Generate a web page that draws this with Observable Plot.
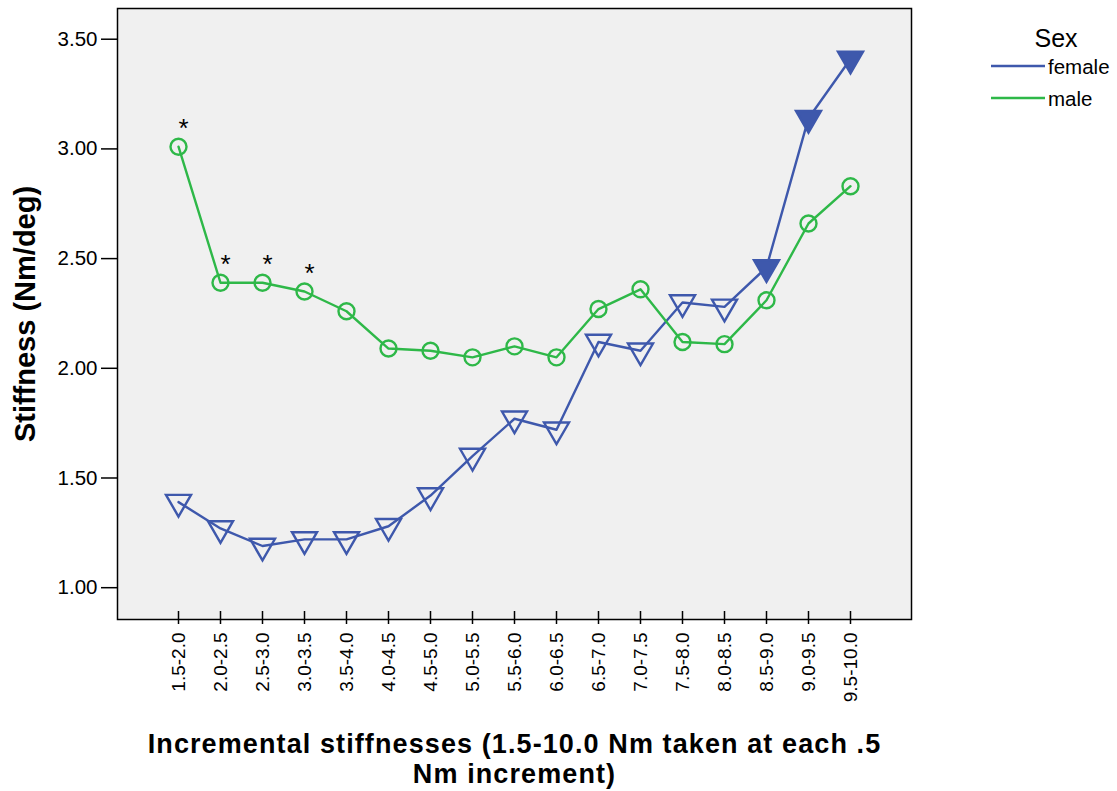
<!DOCTYPE html>
<html><head><meta charset="utf-8">
<script src="https://cdn.jsdelivr.net/npm/d3@7"></script>
<script src="https://cdn.jsdelivr.net/npm/@observablehq/plot@0.6"></script>
<style>
body{margin:0;background:#fff;font-family:"Liberation Sans",Arial,sans-serif;}
#wrap{position:relative;width:1117px;height:791px;}
#legend{position:absolute;left:985px;top:20px;}
</style></head><body>
<div id="wrap"><div id="chart"></div><div id="legend"></div></div>
<script>
const categories = ["1.5-2.0","2.0-2.5","2.5-3.0","3.0-3.5","3.5-4.0","4.0-4.5","4.5-5.0","5.0-5.5","5.5-6.0","6.0-6.5","6.5-7.0","7.0-7.5","7.5-8.0","8.0-8.5","8.5-9.0","9.0-9.5","9.5-10.0"];
const female = [1.39,1.27,1.19,1.22,1.22,1.28,1.42,1.60,1.77,1.72,2.12,2.08,2.30,2.28,2.46,3.14,3.41];
const femaleSolid = [false,false,false,false,false,false,false,false,false,false,false,false,false,false,true,true,true];
const male = [3.01,2.39,2.39,2.35,2.26,2.09,2.08,2.05,2.10,2.05,2.27,2.36,2.12,2.11,2.31,2.66,2.83];
const starred = ["1.5-2.0","2.0-2.5","2.5-3.0","3.0-3.5"];
const yTicks = [1.0,1.5,2.0,2.5,3.0,3.5];
const seriesNames = ["female","male"];
const seriesColors = ["#3e58ac","#2eb848"];
const yTitle = "Stiffness (Nm/deg)";
const xTitle = "Incremental stiffnesses (1.5-10.0 Nm taken at each .5\nNm increment)";
const legendTitle = "Sex";

const fem = categories.map((c,i)=>({cat:c, v:female[i], solid:femaleSolid[i]}));
const mal = categories.map((c,i)=>({cat:c, v:male[i]}));
const stars = mal.filter(d=>starred.includes(d.cat));

const chart = Plot.plot({
  width:1117, height:791,
  marginLeft:117, marginRight:206, marginTop:8, marginBottom:172,
  style:{fontFamily:"Liberation Sans, Arial, sans-serif", fontSize:"19px", background:"white", overflow:"visible", color:"black"},
  x:{type:"point", domain:categories, padding:1.44, label:null},
  y:{domain:[0.855,3.64], label:null},
  marks:[
    Plot.frame({fill:"#f0f0f0"}),
    Plot.axisY({ticks:yTicks, tickFormat:".2f", tickSize:16, tickPadding:4, stroke:"black", strokeWidth:1.5, strokeOpacity:1, fill:"black", label:null, fontSize:20.5}),
    Plot.axisX({tickSize:13, dy:-8, tickFormat:()=>"", stroke:"black", strokeWidth:1.5, strokeOpacity:1, label:null}),
    Plot.axisX({tickSize:0, tickRotate:-90, tickPadding:13, textAnchor:"end", fill:"black", label:null, fontSize:19}),
    Plot.line(fem, {x:"cat", y:"v", stroke:seriesColors[0], strokeWidth:2.4}),
    Plot.dot(fem, {x:"cat", y:"v", symbol:"triangle", rotate:180, r:9.3, stroke:seriesColors[0], strokeWidth:2.4, fill:d=>d.solid?seriesColors[0]:"none"}),
    Plot.line(mal, {x:"cat", y:"v", stroke:seriesColors[1], strokeWidth:2.4}),
    Plot.dot(mal, {x:"cat", y:"v", r:8, stroke:seriesColors[1], strokeWidth:2.4, fill:"none"}),
    Plot.text(stars, {x:"cat", y:"v", text:()=>"*", dx:5, dy:-18, fontSize:26, fill:"black"}),
    Plot.frame({stroke:"black", strokeWidth:1.5}),
    Plot.text([yTitle], {frameAnchor:"left", textAnchor:"middle", rotate:-90, dx:-92, fontSize:29, fontWeight:"bold", fill:"black"}),
    Plot.text([xTitle], {frameAnchor:"bottom", textAnchor:"middle", dy:139, lineAnchor:"middle", lineHeight:1.12, fontSize:27, fontWeight:"bold", fill:"black"})
  ]
});
document.getElementById("chart").appendChild(chart);
d3.select(chart).selectAll("text").filter(function(){ return this.textContent.startsWith("Incremental"); })
  .attr("letter-spacing", "1.1px");

// legend
const lg = d3.select("#legend").append("svg").attr("width",132).attr("height",100)
  .style("font-family","Liberation Sans, Arial, sans-serif");
lg.append("text").attr("x",71).attr("y",18).attr("text-anchor","middle").attr("dominant-baseline","central")
  .attr("font-size",25).text(legendTitle);
seriesNames.forEach((n,i)=>{
  const y = 46 + i*32;
  lg.append("line").attr("x1",6).attr("x2",60).attr("y1",y).attr("y2",y).attr("stroke",seriesColors[i]).attr("stroke-width",2.4);
  lg.append("text").attr("x",63).attr("y",y).attr("dominant-baseline","central").attr("font-size",20.5).text(n);
});
</script>
</body></html>
